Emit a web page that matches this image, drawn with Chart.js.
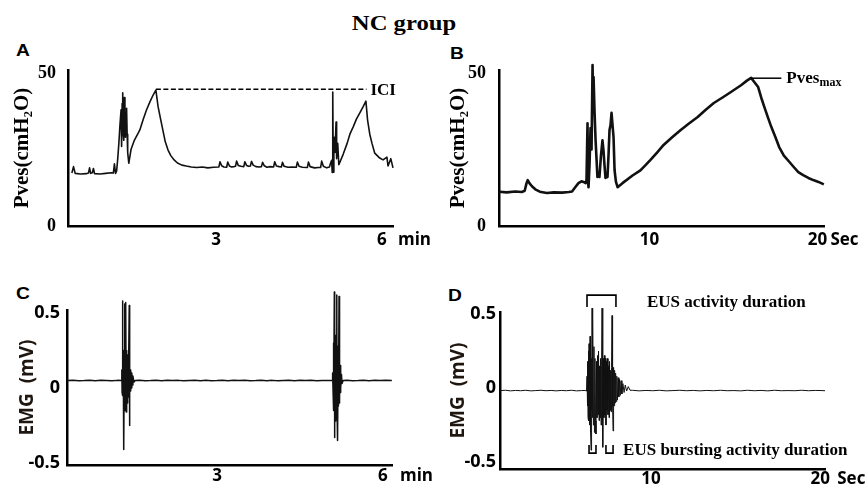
<!DOCTYPE html>
<html><head><meta charset="utf-8">
<script src="https://cdn.jsdelivr.net/npm/chart.js@4.4.1/dist/chart.umd.min.js"></script>
<style>
html,body{margin:0;padding:0;background:#fff;}
#wrap{position:relative;width:867px;height:489px;overflow:hidden;background:#fff;}
canvas{position:absolute;}
.lbl{position:absolute;font-family:"Liberation Sans",Arial,sans-serif;font-weight:bold;font-size:16px;line-height:16px;color:#000;transform:scaleX(1.2);transform-origin:left center;}
#title{position:absolute;left:404px;top:12px;transform:translateX(-50%) scaleX(1.12);font-family:"Liberation Serif","Times New Roman",serif;font-weight:bold;font-size:22px;line-height:22px;white-space:nowrap;color:#000;}
</style></head><body>
<div id="wrap">
<div id="title">NC group</div>
<div class="lbl" style="left:16px;top:43px">A</div>
<div class="lbl" style="left:450px;top:46px">B</div>
<div class="lbl" style="left:16px;top:286px">C</div>
<div class="lbl" style="left:448px;top:288px">D</div>
<canvas id="cA" width="440" height="230" style="left:0px;top:40px"></canvas>
<canvas id="cB" width="435" height="230" style="left:432px;top:40px"></canvas>
<canvas id="cC" width="440" height="209" style="left:0px;top:280px"></canvas>
<canvas id="cD" width="435" height="209" style="left:432px;top:280px"></canvas>
</div>
<script>
// ---------- Panel A: Pves (cmH2O) vs time (min) ----------
const aTime = [0.39,0.42,0.45,0.55,0.65,0.69,0.71,0.73,0.76,0.78,0.80,0.90,1.00,1.10,1.14,1.16,1.18,1.20,1.22,1.24,1.26,1.28,1.29,1.30,1.31,1.32,1.33,1.34,1.35,1.36,1.37,1.38,1.39,1.40,1.42,
  1.46,1.52,1.58,1.62,1.68,1.74,1.80,1.86,1.91,
  1.95,2.00,2.04,2.08,2.13,2.18,2.24,2.30,2.38,2.46,2.55,2.65,2.75,2.85,2.95,
  3.05,3.07,3.10,3.14, 3.19,3.21,3.24,3.28,3.32, 3.35,3.37,3.40,3.45, 3.50,3.52,3.55,3.59, 3.62,3.64,3.67,3.72,3.78,
  3.82,3.84,3.87,3.92,3.98, 4.04,4.06,4.09,4.14, 4.18,4.20,4.23,4.30,4.38, 4.45,4.47,4.50,4.56, 4.65,4.67,4.70,4.78,4.85, 4.89,4.91,4.94,5.00,5.05,
  5.07,5.09,5.10,5.11,5.12,5.13,5.14,5.15,5.17,5.18,5.20,5.22,
  5.30,5.37,5.42,5.48,5.54,5.60,5.66,5.71,
  5.74,5.78,5.82,5.87,5.96,6.02,6.09,6.11,6.16,6.20,6.24];
const aPves = [17.3,19.4,17.2,17.0,17.1,17.3,19.0,17.2,17.4,18.8,17.1,17.0,17.2,17.4,17.3,20.3,17.2,18.0,22.0,27.0,33.0,38.0,26.0,40.0,43.5,30.0,28.0,42.0,33.0,29.0,37.0,38.5,30.0,24.0,20.5,
  25.0,28.0,30.0,31.4,34.8,37.9,40.5,42.8,44.4,
  39.0,34.5,31.0,27.5,24.8,23.0,21.6,20.6,19.9,19.6,19.3,19.1,19.3,19.0,19.2,
  19.3,21.0,19.7,19.3, 19.2,20.9,19.6,19.3,19.4, 19.5,21.2,19.8,19.5, 19.4,21.0,19.8,19.5, 19.6,21.1,19.9,19.4,19.3,
  19.4,20.8,19.7,19.2,19.4, 19.3,21.0,19.6,19.4, 19.3,20.8,19.5,19.2,19.3, 19.2,20.9,19.5,19.2, 19.1,20.9,19.4,19.0,19.1, 19.1,21.2,19.5,19.0,19.3,
  20.5,21.5,17.5,43.8,17.6,25.0,29.0,24.0,34.0,22.0,27.0,20.0,
  23.5,27.0,30.0,32.4,35.0,37.0,39.0,40.8,
  34.6,30.0,27.0,23.8,22.2,21.6,22.5,19.6,22.0,19.0,18.3];
const aXTicks = [3, 6];
const aYTicks = [0, 50];
const iciStart = 1.91, iciEnd = 5.72, iciLevel = 44.7;

// ---------- Panel B: Pves (cmH2O) vs time (s) ----------
const bTime = [1.06,1.5,2.0,2.4,2.57,2.68,2.75,2.85,3.0,3.2,3.47,3.89,4.3,4.8,5.2,5.39,5.60,5.77,5.95,6.07,6.20,6.25,
  6.31,6.34,6.37,6.43,6.49,6.55,6.61,6.64,6.67,6.73,6.79,6.85,6.90,6.96,7.02,
  7.11,7.20,7.26,7.32,7.38,7.44,7.50,7.56,7.62,7.68,7.74,7.80,7.86,7.92,8.00,8.10,
  8.39,8.99,9.46,9.75,10.06,10.45,10.84,11.35,11.86,12.35,12.87,13.35,13.83,14.35,14.85,15.45,15.80,16.05,
  16.25,16.47,16.65,16.83,17.05,17.25,17.50,17.72,18.00,18.32,18.60,18.86,19.15,19.46,19.75,20.06,20.38];
const bPves = [11.2,11.0,11.3,11.1,11.5,14.0,15.0,14.0,13.0,12.0,11.2,10.8,11.0,10.9,11.1,11.3,12.8,14.0,14.6,14.4,14.0,15.0,
  33.6,14.5,12.7,20.0,32.0,25.0,52.6,40.0,48.7,37.0,28.0,21.6,16.0,17.5,16.0,
  23.0,28.0,24.8,20.0,15.7,17.0,16.0,23.0,31.4,33.0,37.0,33.0,29.0,18.3,14.5,12.7,
  14.0,16.5,18.2,19.8,21.6,24.0,26.5,29.0,31.4,33.5,35.6,38.0,40.2,42.0,43.8,46.0,47.5,48.4,
  47.0,45.4,42.0,39.0,35.5,32.4,29.0,25.8,23.0,21.0,19.2,17.6,16.6,15.7,15.0,14.4,13.6];
const bXTicks = [10, 20];
const bYTicks = [0, 50];
const pmaxStart = 16.05, pmaxEnd = 17.85, pmaxLevel = 48.3;

// ---------- Panel C: EMG (mV) vs time (min) ----------
const cTime = [0.29,0.40,0.50,0.60,0.70,0.80,0.90,1.00,1.10,1.20,
  1.27,1.28,1.285,1.29,1.295,1.30,1.305,1.31,1.318,1.325,1.33,1.335,1.34,1.345,1.35,1.354,1.36,1.365,1.37,1.375,1.38,1.385,1.39,1.395,1.40,1.405,1.414,1.418,1.425,1.43,1.44,1.45,1.46,1.47,1.48,1.50,1.52,
  1.6,1.7,1.8,1.9,2.0,2.1,2.2,2.3,2.4,2.5,2.6,2.7,2.8,2.9,3.0,3.1,3.2,3.3,3.4,3.5,3.6,3.7,3.8,3.9,4.0,4.1,4.2,4.3,4.4,4.5,4.6,4.7,4.8,4.9,5.0,
  5.08,5.09,5.10,5.105,5.11,5.121,5.124,5.13,5.135,5.14,5.145,5.15,5.155,5.165,5.17,5.175,5.183,5.19,5.195,5.206,5.21,5.215,5.22,5.225,5.23,5.235,5.24,5.25,5.26,5.28,
  5.35,5.45,5.55,5.65,5.75,5.85,5.95,6.05,6.16];
const cEmg = [0.05,0.051,0.049,0.050,0.052,0.049,0.051,0.050,0.048,0.051,
  0.05,0.12,-0.03,0.18,0.58,-0.05,0.25,-0.12,-0.41,0.22,-0.1,0.56,-0.15,0.28,-0.14,0.57,-0.16,0.25,-0.12,0.22,-0.1,0.2,-0.08,0.18,-0.06,0.15,0.55,-0.25,0.14,-0.02,0.12,0.0,0.1,0.02,0.08,0.04,0.05,
  0.051,0.049,0.050,0.052,0.049,0.051,0.050,0.051,0.048,0.050,0.052,0.049,0.051,0.049,0.050,0.052,0.049,0.051,0.050,0.051,0.049,0.050,0.052,0.049,0.051,0.048,0.050,0.051,0.049,0.051,0.050,0.051,0.049,0.050,0.05,
  0.05,0.1,-0.05,0.3,-0.15,0.64,-0.33,0.4,-0.2,0.35,-0.22,0.32,-0.18,0.62,-0.15,0.28,-0.35,0.25,-0.12,0.61,-0.1,0.18,-0.06,0.15,-0.03,0.12,0.0,0.09,0.03,0.05,
  0.051,0.049,0.050,0.052,0.049,0.051,0.050,0.051,0.05];
const cXTicks = [3, 6];
const cYTicks = [-0.5, 0, 0.5];

// ---------- Panel D: EMG (mV) vs time (s) ----------
const dTime = [1.08,1.4,1.7,2.0,2.3,2.6,2.9,3.2,3.5,3.8,4.1,4.4,4.7,5.0,5.3,5.6,5.9,6.1,
  6.19,6.22,6.24,6.26,6.28,6.30,6.32,6.34,6.37,6.40,
  6.43,6.46,6.48,6.50,6.52,6.54,6.55,6.57,6.60,6.63,
  6.66,6.69,6.72,6.75,6.78,6.81,6.84,6.87,6.90,6.93,
  6.96,6.99,7.02,7.05,7.08,7.11,7.14,7.16,7.19,7.22,
  7.25,7.28,7.31,7.34,7.37,7.40,7.43,7.46,7.49,7.52,
  7.55,7.58,7.61,7.64,7.67,7.70,7.73,7.76,7.79,7.82,
  7.85,7.88,7.91,7.94,7.98,8.02,8.06,8.10,8.14,8.18,
  8.23,8.28,8.34,8.41,8.48,8.56,8.66,8.76,
  8.9,9.3,9.7,10.1,10.5,10.9,11.3,11.7,12.1,12.5,12.9,13.3,13.7,14.1,14.5,14.9,15.3,15.7,16.1,16.5,16.9,17.3,17.7,18.1,18.5,18.9,19.3,19.7,20.1,20.28];
const dEmg = [-0.017,-0.015,-0.019,-0.016,-0.018,-0.015,-0.019,-0.017,-0.015,-0.018,-0.016,-0.019,-0.016,-0.018,-0.015,-0.019,-0.017,-0.016,
  -0.02,0.08,-0.12,0.18,-0.2,0.25,-0.22,0.3,-0.25,0.35,
  -0.3,-0.42,0.2,-0.15,0.54,-0.2,0.3,0.49,-0.25,0.28,
  -0.3,0.2,-0.22,-0.31,0.18,-0.2,0.22,-0.18,0.25,-0.22,
  0.15,-0.2,0.2,-0.25,0.15,0.54,-0.15,-0.40,0.2,-0.2,
  0.22,-0.18,0.2,-0.25,0.18,-0.15,0.2,-0.18,0.15,-0.2,
  0.18,-0.15,0.12,-0.16,0.14,0.49,-0.12,-0.29,0.14,-0.12,
  0.12,-0.1,0.1,-0.09,0.08,-0.08,0.07,-0.06,0.06,-0.05,
  0.05,-0.04,0.03,-0.03,0.02,-0.02,0.01,-0.015,
  -0.015,-0.019,-0.016,-0.018,-0.015,-0.019,-0.017,-0.015,-0.018,-0.016,-0.019,-0.016,-0.018,-0.015,-0.018,-0.017,-0.019,-0.015,-0.018,-0.016,-0.019,-0.015,-0.018,-0.017,-0.018,-0.015,-0.018,-0.016,-0.017,-0.018];
const dXTicks = [10, 20];
const dYTicks = [-0.5, 0, 0.5];
const actStart = 6.22, actEnd = 7.93, actTop = 0.628, actLeg = 0.547, actTextX = 9.76, actTextY = 0.58;
const burst1 = [6.34, 6.75], burst2 = [7.34, 7.76], burstTop = -0.385, burstBottom = -0.44, burstTextX = 8.35, burstTextY = -0.42;

// ---------- drawing ----------
const SERIF = '"Liberation Serif","Times New Roman","DejaVu Serif",serif';
const SANS = '"Open Sans","Liberation Sans",Arial,sans-serif';

function drawUnit(chart, o) {
  const ctx = chart.ctx, x = chart.scales.x;
  const last = o.xTicks[o.xTicks.length - 1];
  ctx.save();
  ctx.fillStyle = '#000';
  ctx.font = 'bold 17px ' + SANS;
  ctx.textAlign = 'left';
  ctx.textBaseline = 'middle';
  ctx.fillText(o.unit, x.getPixelForValue(last) + o.unitDx, chart.chartArea.bottom + o.xPad + 17 * 1.2 / 2);
  ctx.restore();
}

function panel(id, o) {
  const pts = o.xs.map((x, i) => ({x: x, y: o.ys[i]}));
  return new Chart(document.getElementById(id).getContext('2d'), {
    type: 'scatter',
    data: {datasets: [{data: pts, showLine: true, borderColor: '#111', backgroundColor: '#111',
      borderWidth: o.lw, pointRadius: 0, pointHoverRadius: 0, tension: 0, fill: false, clip: false, borderJoinStyle: 'round'}]},
    options: {
      responsive: false, maintainAspectRatio: false, animation: false, devicePixelRatio: 1, events: [],
      layout: {padding: {top: o.padTop, right: o.padRight, left: 0, bottom: 0}},
      plugins: {legend: {display: false}, tooltip: {enabled: false}, title: {display: false}},
      scales: {
        x: {type: 'linear', position: 'bottom', min: o.xMin, max: o.xMax,
          grid: {display: false, drawTicks: false},
          border: {display: true, color: '#000', width: 2.5},
          ticks: {autoSkip: false, maxRotation: 0, minRotation: 0, padding: o.xPad, color: '#000',
            font: {family: SANS, size: 17, weight: 'bold'}, callback: v => String(v)},
          afterBuildTicks: s => { s.ticks = o.xTicks.map(v => ({value: v})); },
          afterFit: s => { s.height = o.hx; }},
        y: {type: 'linear', position: 'left', min: o.yMin, max: o.yMax,
          grid: {display: false, drawTicks: false},
          border: {display: true, color: '#000', width: 2.5},
          ticks: {autoSkip: false, padding: o.yPad, color: '#000', font: o.yTickFont, callback: v => String(v)},
          title: {display: true, text: o.yTitle, color: o.yTitleColor, font: o.yTitleFont, padding: {top: o.yTitlePad, bottom: 0}},
          afterBuildTicks: s => { s.ticks = o.yTicks.map(v => ({value: v})); },
          afterFit: s => { s.width = o.wy; }}
      }
    },
    plugins: [{id: 'ann_' + id, afterDatasetsDraw(chart) { drawUnit(chart, o); if (o.ann) o.ann(chart); }}]
  });
}

function hline(ctx, x1, x2, y) { ctx.beginPath(); ctx.moveTo(x1, y); ctx.lineTo(x2, y); ctx.stroke(); }

panel('cA', {xs: aTime, ys: aPves, xMin: 0.32, xMax: 6.2, yMin: 0, yMax: 50.98, xTicks: aXTicks, yTicks: aYTicks,
  lw: 1.6, padTop: 30, padRight: 47, wy: 68, hx: 44, xPad: 4, yPad: 12,
  yTickFont: {family: SERIF, size: 18, weight: 'bold'},
  yTitle: 'Pves(cmH\u2082O)', yTitleColor: '#000', yTitleFont: {family: SERIF, size: 21, weight: 'bold'}, yTitlePad: 10,
  unit: 'min', unitDx: 16,
  ann(chart) {
    const ctx = chart.ctx, x = chart.scales.x, y = chart.scales.y;
    const yy = y.getPixelForValue(iciLevel);
    ctx.save();
    ctx.strokeStyle = '#000'; ctx.lineWidth = 1.6; ctx.setLineDash([5, 2.5]);
    hline(ctx, x.getPixelForValue(iciStart), x.getPixelForValue(iciEnd), yy);
    ctx.setLineDash([]);
    ctx.fillStyle = '#000'; ctx.font = 'bold 17px ' + SERIF; ctx.textBaseline = 'middle'; ctx.textAlign = 'left';
    ctx.fillText('ICI', x.getPixelForValue(iciEnd) + 4, yy + 1);
    ctx.restore();
  }});

panel('cB', {xs: bTime, ys: bPves, xMin: 1.04, xMax: 20.39, yMin: 0, yMax: 50.98, xTicks: bXTicks, yTicks: bYTicks,
  lw: 2.6, padTop: 30, padRight: 43, wy: 67, hx: 44, xPad: 4, yPad: 13,
  yTickFont: {family: SERIF, size: 18, weight: 'bold'},
  yTitle: 'Pves(cmH\u2082O)', yTitleColor: '#000', yTitleFont: {family: SERIF, size: 21, weight: 'bold'}, yTitlePad: 14,
  unit: 'Sec', unitDx: 13,
  ann(chart) {
    const ctx = chart.ctx, x = chart.scales.x, y = chart.scales.y;
    const yy = y.getPixelForValue(pmaxLevel);
    const xe = x.getPixelForValue(pmaxEnd);
    ctx.save();
    ctx.strokeStyle = '#000'; ctx.lineWidth = 1.5;
    hline(ctx, x.getPixelForValue(pmaxStart), xe, yy);
    ctx.fillStyle = '#000'; ctx.textBaseline = 'middle'; ctx.textAlign = 'left';
    ctx.font = 'bold 17px ' + SERIF;
    ctx.fillText('Pves', xe + 5, yy);
    const w = ctx.measureText('Pves').width;
    ctx.font = 'bold 12px ' + SERIF;
    ctx.fillText('max', xe + 5 + w, yy + 5);
    ctx.restore();
  }});

panel('cC', {xs: cTime, ys: cEmg, xMin: 0.289, xMax: 6.163, yMin: -0.513, yMax: 0.52, xTicks: cXTicks, yTicks: cYTicks,
  lw: 1.5, padTop: 30, padRight: 48, wy: 67, hx: 24, xPad: 1, yPad: 7,
  yTickFont: {family: SANS, size: 18, weight: 'bold'},
  yTitle: 'EMG  (mV)', yTitleColor: '#1f1610', yTitleFont: {family: SANS, size: 19, weight: 'bold'}, yTitlePad: 16,
  unit: 'min', unitDx: 17});

panel('cD', {xs: dTime, ys: dEmg, xMin: 1.08, xMax: 20.28, yMin: -0.547, yMax: 0.514, xTicks: dXTicks, yTicks: dYTicks,
  lw: 1, padTop: 32, padRight: 42, wy: 68, hx: 20, xPad: 0, yPad: 4,
  yTickFont: {family: SANS, size: 18, weight: 'bold'},
  yTitle: 'EMG  (mV)', yTitleColor: '#1f1610', yTitleFont: {family: SANS, size: 19, weight: 'bold'}, yTitlePad: 15,
  unit: 'Sec', unitDx: 17,
  ann(chart) {
    const ctx = chart.ctx, x = chart.scales.x, y = chart.scales.y;
    ctx.save();
    ctx.strokeStyle = '#000'; ctx.lineWidth = 1.6;
    const x1 = x.getPixelForValue(actStart), x2 = x.getPixelForValue(actEnd);
    const yt = y.getPixelForValue(actTop), yl = y.getPixelForValue(actLeg);
    ctx.beginPath(); ctx.moveTo(x1, yl); ctx.lineTo(x1, yt); ctx.lineTo(x2, yt); ctx.lineTo(x2, yl); ctx.stroke();
    const ub = y.getPixelForValue(burstBottom), ut = y.getPixelForValue(burstTop);
    [burst1, burst2].forEach(b => {
      const u1 = x.getPixelForValue(b[0]), u2 = x.getPixelForValue(b[1]);
      ctx.beginPath(); ctx.moveTo(u1, ut); ctx.lineTo(u1, ub); ctx.lineTo(u2, ub); ctx.lineTo(u2, ut); ctx.stroke();
    });
    ctx.fillStyle = '#000'; ctx.textBaseline = 'middle'; ctx.textAlign = 'left';
    ctx.font = 'bold 17px ' + SERIF;
    ctx.fillText('EUS activity duration', x.getPixelForValue(actTextX), y.getPixelForValue(actTextY));
    ctx.fillText('EUS bursting activity duration', x.getPixelForValue(burstTextX), y.getPixelForValue(burstTextY));
    ctx.restore();
  }});
</script>
</body></html>
